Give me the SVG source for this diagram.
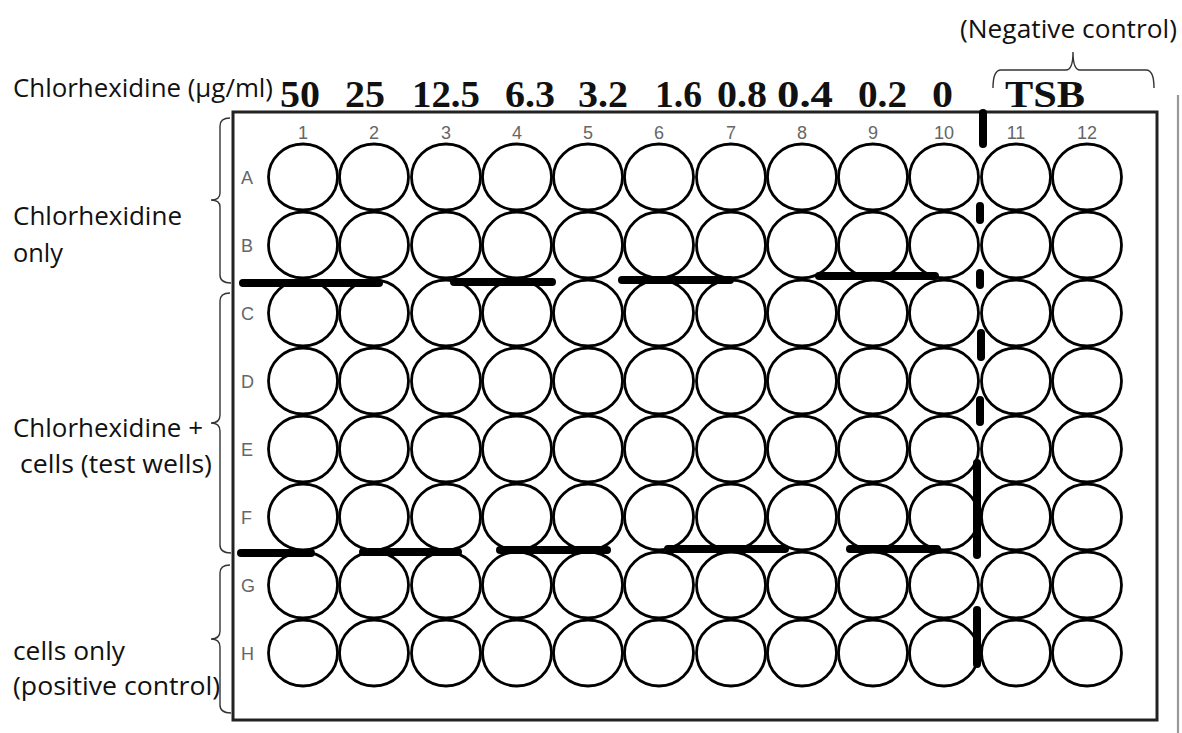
<svg xmlns="http://www.w3.org/2000/svg" xmlns:xlink="http://www.w3.org/1999/xlink" width="1182" height="733" viewBox="0 0 1182 733">
<style>
.lbl{font-family:"Open Sans","Liberation Sans",sans-serif;font-size:26px;fill:#111}
.conc{font-family:"Liberation Serif","Times New Roman",serif;font-weight:bold;font-size:38px;fill:#111}
.coln{font-family:"Liberation Sans",Arial,sans-serif;font-size:18px;fill:#666;text-anchor:middle}
.rown{font-family:"Liberation Sans",Arial,sans-serif;font-size:18px;fill:#666}
.well{fill:#fff;stroke:#000;stroke-width:2.8}
.bar{stroke:#000;stroke-width:8;stroke-linecap:round;fill:none}
.brace{stroke:#333;stroke-width:1.4;fill:none}
</style>
<defs>
<ellipse id="w" cx="0" cy="0" rx="34.5" ry="33" class="well"/>
</defs>
<rect width="1182" height="733" fill="#fff"/>
<g id="labels">
<text class="lbl" x="13" y="97" textLength="260" lengthAdjust="spacingAndGlyphs">Chlorhexidine (μg/ml)</text>
<text class="lbl" x="960" y="38" textLength="217" lengthAdjust="spacingAndGlyphs">(Negative control)</text>
<text class="lbl" x="13" y="225" textLength="169" lengthAdjust="spacingAndGlyphs">Chlorhexidine</text>
<text class="lbl" x="13" y="262" textLength="50" lengthAdjust="spacingAndGlyphs">only</text>
<text class="lbl" x="13" y="437" textLength="190" lengthAdjust="spacingAndGlyphs">Chlorhexidine +</text>
<text class="lbl" x="20" y="473" textLength="192" lengthAdjust="spacingAndGlyphs">cells (test wells)</text>
<text class="lbl" x="13" y="660" textLength="112" lengthAdjust="spacingAndGlyphs">cells only</text>
<text class="lbl" x="13" y="695" textLength="207" lengthAdjust="spacingAndGlyphs">(positive control)</text>
</g>
<g id="concentrations">
<text class="conc" x="280" y="107" textLength="40" lengthAdjust="spacingAndGlyphs">50</text>
<text class="conc" x="345" y="107" textLength="40" lengthAdjust="spacingAndGlyphs">25</text>
<text class="conc" x="412" y="107" textLength="68" lengthAdjust="spacingAndGlyphs">12.5</text>
<text class="conc" x="505" y="107" textLength="50" lengthAdjust="spacingAndGlyphs">6.3</text>
<text class="conc" x="578" y="107" textLength="50" lengthAdjust="spacingAndGlyphs">3.2</text>
<text class="conc" x="655" y="107" textLength="47" lengthAdjust="spacingAndGlyphs">1.6</text>
<text class="conc" x="717" y="107" textLength="50" lengthAdjust="spacingAndGlyphs">0.8</text>
<text class="conc" x="777" y="107" textLength="56" lengthAdjust="spacingAndGlyphs">0.4</text>
<text class="conc" x="858" y="107" textLength="49" lengthAdjust="spacingAndGlyphs">0.2</text>
<text class="conc" x="932" y="107" textLength="21" lengthAdjust="spacingAndGlyphs">0</text>
<text class="conc" x="1005" y="107" textLength="80" lengthAdjust="spacingAndGlyphs">TSB</text>
</g>
<g id="braces">
<path class="brace" d="M230 118 Q220 118 220 126 L220 193 Q220 200 211 200 Q220 200 220 207 L220 275 Q220 283 231 283"/>
<path class="brace" d="M230 293 Q220 293 220 301 L220 415 Q220 423 211 423 Q220 423 220 431 L220 545 Q220 553 231 553"/>
<path class="brace" d="M230 565 Q220 565 220 573 L220 631 Q220 639 211 639 Q220 639 220 647 L220 705 Q220 713 231 713"/>
<path class="brace" d="M993 88 Q993 70 1001 70 L1066 70 Q1073 70 1073 52 Q1073 70 1080 70 L1146 70 Q1154 70 1154 88"/>
</g>
<g id="plate">
<line x1="1178" y1="95" x2="1178" y2="733" stroke="#999" stroke-width="2.2"/>
<rect x="233" y="112" width="924" height="608" fill="#fff" stroke="#222" stroke-width="3"/>
<g id="column-numbers">
<text class="coln" x="303" y="139">1</text>
<text class="coln" x="374" y="139">2</text>
<text class="coln" x="446" y="139">3</text>
<text class="coln" x="517" y="139">4</text>
<text class="coln" x="588" y="139">5</text>
<text class="coln" x="659" y="139">6</text>
<text class="coln" x="731" y="139">7</text>
<text class="coln" x="802" y="139">8</text>
<text class="coln" x="873" y="139">9</text>
<text class="coln" x="944" y="139">10</text>
<text class="coln" x="1016" y="139">11</text>
<text class="coln" x="1087" y="139">12</text>
</g>
<g id="row-letters">
<text class="rown" x="241" y="184">A</text>
<text class="rown" x="241" y="252">B</text>
<text class="rown" x="241" y="320">C</text>
<text class="rown" x="241" y="388">D</text>
<text class="rown" x="241" y="456">E</text>
<text class="rown" x="241" y="524">F</text>
<text class="rown" x="241" y="592">G</text>
<text class="rown" x="241" y="660">H</text>
</g>
<g id="wells">
<g id="row-A"><use xlink:href="#w" x="303" y="177"/><use xlink:href="#w" x="374" y="177"/><use xlink:href="#w" x="446" y="177"/><use xlink:href="#w" x="517" y="177"/><use xlink:href="#w" x="588" y="177"/><use xlink:href="#w" x="659" y="177"/><use xlink:href="#w" x="731" y="177"/><use xlink:href="#w" x="802" y="177"/><use xlink:href="#w" x="873" y="177"/><use xlink:href="#w" x="944" y="177"/><use xlink:href="#w" x="1016" y="177"/><use xlink:href="#w" x="1087" y="177"/></g>
<g id="row-B"><use xlink:href="#w" x="303" y="245"/><use xlink:href="#w" x="374" y="245"/><use xlink:href="#w" x="446" y="245"/><use xlink:href="#w" x="517" y="245"/><use xlink:href="#w" x="588" y="245"/><use xlink:href="#w" x="659" y="245"/><use xlink:href="#w" x="731" y="245"/><use xlink:href="#w" x="802" y="245"/><use xlink:href="#w" x="873" y="245"/><use xlink:href="#w" x="944" y="245"/><use xlink:href="#w" x="1016" y="245"/><use xlink:href="#w" x="1087" y="245"/></g>
<g id="row-C"><use xlink:href="#w" x="303" y="313"/><use xlink:href="#w" x="374" y="313"/><use xlink:href="#w" x="446" y="313"/><use xlink:href="#w" x="517" y="313"/><use xlink:href="#w" x="588" y="313"/><use xlink:href="#w" x="659" y="313"/><use xlink:href="#w" x="731" y="313"/><use xlink:href="#w" x="802" y="313"/><use xlink:href="#w" x="873" y="313"/><use xlink:href="#w" x="944" y="313"/><use xlink:href="#w" x="1016" y="313"/><use xlink:href="#w" x="1087" y="313"/></g>
<g id="row-D"><use xlink:href="#w" x="303" y="381"/><use xlink:href="#w" x="374" y="381"/><use xlink:href="#w" x="446" y="381"/><use xlink:href="#w" x="517" y="381"/><use xlink:href="#w" x="588" y="381"/><use xlink:href="#w" x="659" y="381"/><use xlink:href="#w" x="731" y="381"/><use xlink:href="#w" x="802" y="381"/><use xlink:href="#w" x="873" y="381"/><use xlink:href="#w" x="944" y="381"/><use xlink:href="#w" x="1016" y="381"/><use xlink:href="#w" x="1087" y="381"/></g>
<g id="row-E"><use xlink:href="#w" x="303" y="449"/><use xlink:href="#w" x="374" y="449"/><use xlink:href="#w" x="446" y="449"/><use xlink:href="#w" x="517" y="449"/><use xlink:href="#w" x="588" y="449"/><use xlink:href="#w" x="659" y="449"/><use xlink:href="#w" x="731" y="449"/><use xlink:href="#w" x="802" y="449"/><use xlink:href="#w" x="873" y="449"/><use xlink:href="#w" x="944" y="449"/><use xlink:href="#w" x="1016" y="449"/><use xlink:href="#w" x="1087" y="449"/></g>
<g id="row-F"><use xlink:href="#w" x="303" y="517"/><use xlink:href="#w" x="374" y="517"/><use xlink:href="#w" x="446" y="517"/><use xlink:href="#w" x="517" y="517"/><use xlink:href="#w" x="588" y="517"/><use xlink:href="#w" x="659" y="517"/><use xlink:href="#w" x="731" y="517"/><use xlink:href="#w" x="802" y="517"/><use xlink:href="#w" x="873" y="517"/><use xlink:href="#w" x="944" y="517"/><use xlink:href="#w" x="1016" y="517"/><use xlink:href="#w" x="1087" y="517"/></g>
<g id="row-G"><use xlink:href="#w" x="303" y="585"/><use xlink:href="#w" x="374" y="585"/><use xlink:href="#w" x="446" y="585"/><use xlink:href="#w" x="517" y="585"/><use xlink:href="#w" x="588" y="585"/><use xlink:href="#w" x="659" y="585"/><use xlink:href="#w" x="731" y="585"/><use xlink:href="#w" x="802" y="585"/><use xlink:href="#w" x="873" y="585"/><use xlink:href="#w" x="944" y="585"/><use xlink:href="#w" x="1016" y="585"/><use xlink:href="#w" x="1087" y="585"/></g>
<g id="row-H"><use xlink:href="#w" x="303" y="653"/><use xlink:href="#w" x="374" y="653"/><use xlink:href="#w" x="446" y="653"/><use xlink:href="#w" x="517" y="653"/><use xlink:href="#w" x="588" y="653"/><use xlink:href="#w" x="659" y="653"/><use xlink:href="#w" x="731" y="653"/><use xlink:href="#w" x="802" y="653"/><use xlink:href="#w" x="873" y="653"/><use xlink:href="#w" x="944" y="653"/><use xlink:href="#w" x="1016" y="653"/><use xlink:href="#w" x="1087" y="653"/></g>
</g>
</g>
<g id="bars">
<line class="bar" x1="243" y1="283" x2="379" y2="283"/>
<line class="bar" x1="454" y1="282" x2="552" y2="282"/>
<line class="bar" x1="622" y1="280" x2="730" y2="280"/>
<line class="bar" x1="819" y1="276" x2="935" y2="276"/>
<line class="bar" x1="241" y1="553" x2="311" y2="553"/>
<line class="bar" x1="363" y1="552" x2="458" y2="552"/>
<line class="bar" x1="500" y1="550" x2="607" y2="550"/>
<line class="bar" x1="668" y1="549" x2="785" y2="549"/>
<line class="bar" x1="850" y1="549" x2="937" y2="549"/>
<line class="bar" x1="983" y1="113" x2="983" y2="144" stroke-width="9"/>
<line class="bar" x1="980" y1="206" x2="980" y2="220"/>
<line class="bar" x1="980" y1="273" x2="980" y2="285"/>
<line class="bar" x1="981" y1="333" x2="981" y2="357"/>
<line class="bar" x1="980" y1="400" x2="980" y2="422"/>
<line class="bar" x1="977" y1="463" x2="977" y2="555"/>
<line class="bar" x1="977" y1="610" x2="977" y2="664"/>
</g>
</svg>
